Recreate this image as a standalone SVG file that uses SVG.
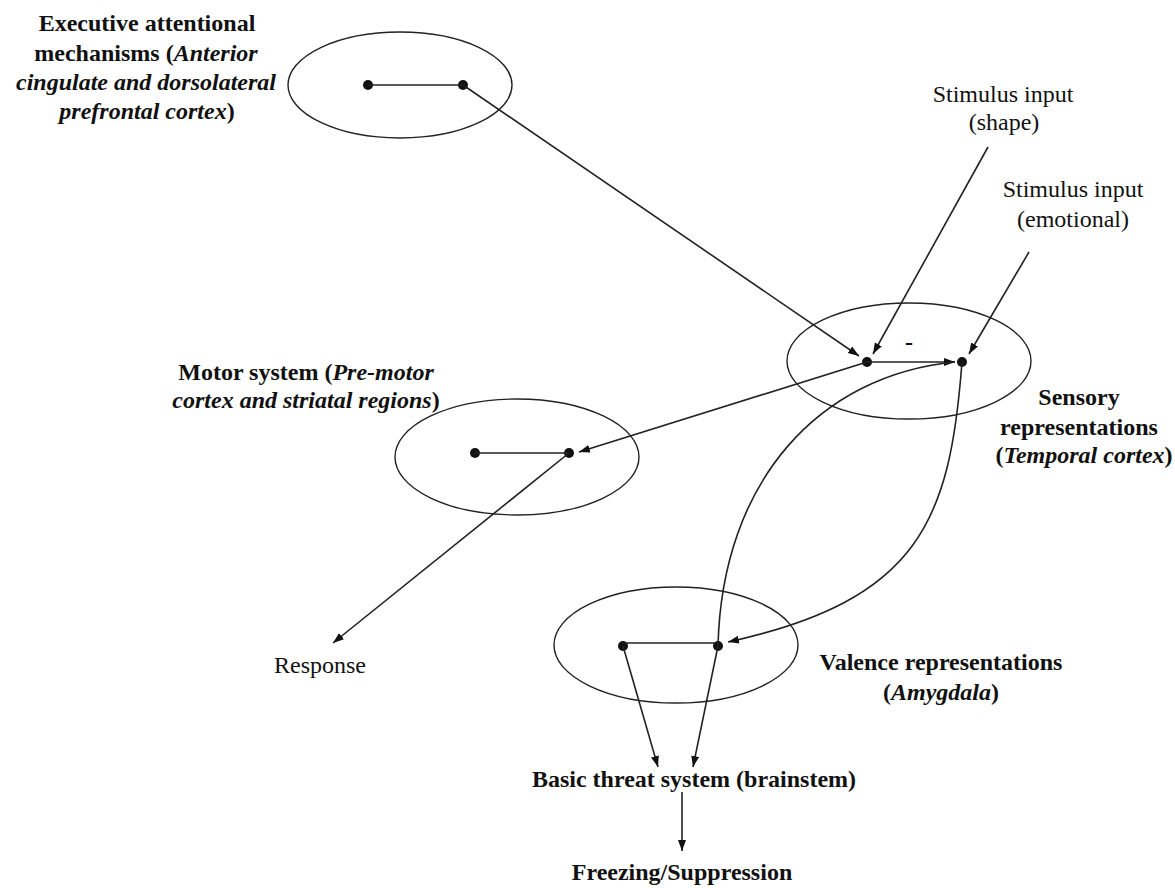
<svg xmlns="http://www.w3.org/2000/svg" width="1175" height="888" viewBox="0 0 1175 888">
<style>
text{font-family:"Liberation Serif","Times New Roman",serif;font-size:24px;fill:#111}
.b{font-weight:bold}
.bi{font-weight:bold;font-style:italic}
.ell{fill:none;stroke:#222;stroke-width:1.4}
.dot{fill:#111}
.ln{fill:none;stroke:#222;stroke-width:1.6}
.ar{fill:none;stroke:#222;stroke-width:1.6;marker-end:url(#ah)}
</style>
<defs>
<marker id="ah" markerUnits="userSpaceOnUse" markerWidth="13" markerHeight="9" refX="11" refY="4" orient="auto">
<path d="M0,0 L11,4 L0,8 Z" fill="#111"/>
</marker>
</defs>
<rect width="1175" height="888" fill="#fff"/>

<g id="executive">
<ellipse class="ell" cx="400" cy="85" rx="112" ry="53"/>
<circle class="dot" cx="368" cy="85" r="5"/>
<circle class="dot" cx="463" cy="85" r="5"/>
<text x="147" y="31" text-anchor="middle" class="b">Executive attentional</text>
<text x="146" y="61" text-anchor="middle" class="b">mechanisms (<tspan class="bi">Anterior</tspan></text>
<text x="146" y="90" text-anchor="middle" class="bi">cingulate and dorsolateral</text>
<text x="147" y="119" text-anchor="middle"><tspan class="bi">prefrontal cortex</tspan><tspan class="b">)</tspan></text>
</g>

<g id="sensory">
<ellipse class="ell" cx="909" cy="361" rx="122" ry="58"/>
<circle class="dot" cx="867" cy="362" r="5"/>
<circle class="dot" cx="962" cy="362" r="5"/>
<text x="909" y="350" text-anchor="middle" class="b">-</text>
<text x="1079" y="405" text-anchor="middle" class="b">Sensory</text>
<text x="1079" y="435" text-anchor="middle" class="b">representations</text>
<text x="1084" y="463" text-anchor="middle"><tspan class="b">(</tspan><tspan class="bi">Temporal cortex</tspan><tspan class="b">)</tspan></text>
</g>

<g id="motor">
<ellipse class="ell" cx="517" cy="457" rx="122" ry="58"/>
<circle class="dot" cx="475" cy="453" r="5"/>
<circle class="dot" cx="569" cy="453" r="5"/>
<text x="306" y="380" text-anchor="middle"><tspan class="b">Motor system (</tspan><tspan class="bi">Pre-motor</tspan></text>
<text x="306" y="408" text-anchor="middle"><tspan class="bi">cortex and striatal regions</tspan><tspan class="b">)</tspan></text>
</g>

<g id="valence">
<ellipse class="ell" cx="676" cy="645" rx="122" ry="58"/>
<circle class="dot" cx="623" cy="646" r="5"/>
<circle class="dot" cx="718" cy="646" r="5"/>
<text x="941" y="670" text-anchor="middle" class="b">Valence representations</text>
<text x="941" y="700" text-anchor="middle"><tspan class="b">(</tspan><tspan class="bi">Amygdala</tspan><tspan class="b">)</tspan></text>
</g>

<g id="stimulus-shape">
<text x="1003" y="102" text-anchor="middle">Stimulus input</text>
<text x="1004" y="130" text-anchor="middle">(shape)</text>
</g>

<g id="stimulus-emotional">
<text x="1073" y="197" text-anchor="middle">Stimulus input</text>
<text x="1073" y="227" text-anchor="middle">(emotional)</text>
</g>

<g id="response">
<text x="320" y="673" text-anchor="middle">Response</text>
</g>

<g id="threat">
<text x="694" y="787" text-anchor="middle" class="b">Basic threat system (brainstem)</text>
</g>

<g id="freezing">
<text x="682" y="880" text-anchor="middle" class="b">Freezing/Suppression</text>
</g>

<g id="connectors">
<line class="ln" x1="368" y1="85" x2="463" y2="85"/>
<line class="ln" x1="475" y1="453" x2="569" y2="453"/>
<line class="ln" x1="623" y1="643" x2="718" y2="643"/>
<line class="ar" x1="463" y1="85" x2="859" y2="356"/>
<line class="ar" x1="988" y1="147" x2="873" y2="354"/>
<line class="ar" x1="1029" y1="252" x2="969" y2="354"/>
<line class="ar" x1="867" y1="362" x2="955" y2="362"/>
<line class="ar" x1="867" y1="362" x2="579" y2="452"/>
<line class="ar" x1="569" y1="453" x2="333" y2="643"/>
<path class="ar" d="M962,362 C950,520 920,600 728,642"/>
<path class="ln" d="M718,646 C722,480 820,375 955,362"/>
<line class="ar" x1="623" y1="646" x2="658" y2="767"/>
<line class="ar" x1="718" y1="646" x2="693" y2="767"/>
<line class="ar" x1="682" y1="792" x2="682" y2="851"/>
</g>
</svg>
